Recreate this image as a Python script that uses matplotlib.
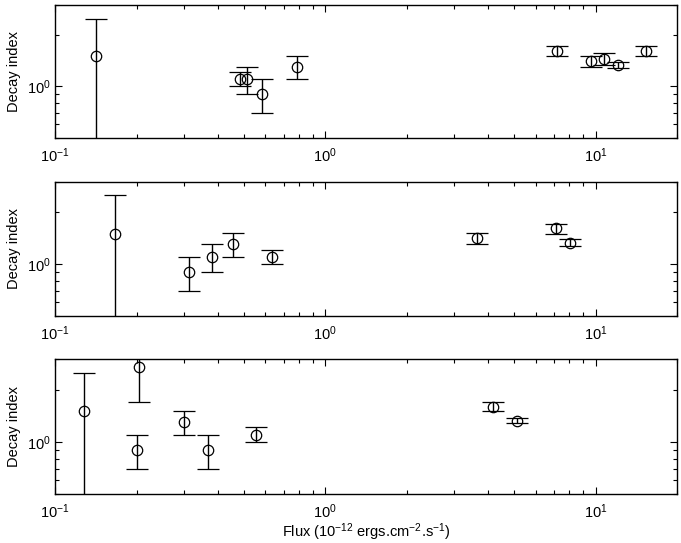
import matplotlib
matplotlib.use("Agg")
import matplotlib.pyplot as plt
from matplotlib.ticker import LogLocator, NullFormatter

plt.rcParams['font.family'] = ['Liberation Sans', 'DejaVu Sans']
plt.rcParams['mathtext.fontset'] = 'custom'
plt.rcParams['mathtext.rm'] = 'Liberation Sans'
plt.rcParams['mathtext.it'] = 'Liberation Sans:italic'
plt.rcParams['mathtext.bf'] = 'Liberation Sans:bold'

# panel 1
flux1 = [0.142, 0.483, 0.515, 0.581, 0.785, 7.19, 9.58, 10.7, 12.1, 15.4]
decay1 = [1.51, 1.10, 1.10, 0.90, 1.30, 1.61, 1.40, 1.45, 1.33, 1.61]
low1 = [0.30, 1.00, 0.90, 0.70, 1.10, 1.51, 1.30, 1.33, 1.28, 1.51]
high1 = [2.49, 1.21, 1.30, 1.10, 1.50, 1.72, 1.50, 1.56, 1.39, 1.72]

# panel 2
flux2 = [0.166, 0.312, 0.380, 0.454, 0.635, 3.63, 7.14, 8.04]
decay2 = [1.50, 0.90, 1.10, 1.31, 1.10, 1.41, 1.61, 1.33]
low2 = [0.30, 0.70, 0.90, 1.10, 1.00, 1.31, 1.50, 1.28]
high2 = [2.52, 1.10, 1.31, 1.51, 1.21, 1.51, 1.71, 1.39]

# panel 3
flux3 = [0.128, 0.200, 0.205, 0.301, 0.369, 0.553, 4.17, 5.14]
decay3 = [1.50, 0.90, 2.69, 1.30, 0.90, 1.10, 1.59, 1.32]
low3 = [0.30, 0.70, 1.69, 1.10, 0.70, 1.00, 1.50, 1.28]
high3 = [2.49, 1.10, 3.50, 1.50, 1.10, 1.21, 1.70, 1.37]

panels = [(flux1, decay1, low1, high1),
          (flux2, decay2, low2, high2),
          (flux3, decay3, low3, high3)]

fig = plt.figure(figsize=(6.81, 5.43), dpi=100)
boxes = [[0.081, 0.746, 0.913, 0.245],
         [0.081, 0.418, 0.913, 0.247],
         [0.081, 0.090, 0.913, 0.249]]

for box, (x, y, lo, hi) in zip(boxes, panels):
    ax = fig.add_axes(box)
    yerr = [[yy - l for yy, l in zip(y, lo)], [h - yy for yy, h in zip(y, hi)]]
    ax.errorbar(x, y, yerr=yerr, fmt='o', mfc='none', mec='black', ms=7.5,
                mew=0.9, ecolor='black', elinewidth=1.0, capsize=8, capthick=1.0,
                color='black')
    ax.set_xscale('log')
    ax.set_yscale('log')
    ax.set_xlim(0.1, 20)
    ax.set_ylim(0.5, 3)
    ax.yaxis.set_major_locator(LogLocator(base=10, numticks=10))
    ax.yaxis.set_minor_locator(LogLocator(base=10, subs=range(2, 10), numticks=10))
    ax.yaxis.set_minor_formatter(NullFormatter())
    ax.xaxis.set_minor_formatter(NullFormatter())
    ax.tick_params(which='both', direction='in', top=True, right=True, labelsize=10.5)
    ax.tick_params(which='major', length=5, width=0.8)
    ax.tick_params(which='minor', length=3, width=0.8)
    ax.tick_params(axis='x', which='major', pad=6)
    ax.set_ylabel('Decay index', fontsize=10.5)
    for s in ax.spines.values():
        s.set_linewidth(1.0)

ax.set_xlabel(r'Flux (10$^{-12}$ ergs.cm$^{-2}$.s$^{-1}$)', fontsize=10.5, labelpad=0)

fig.savefig('out.png', dpi=100)
